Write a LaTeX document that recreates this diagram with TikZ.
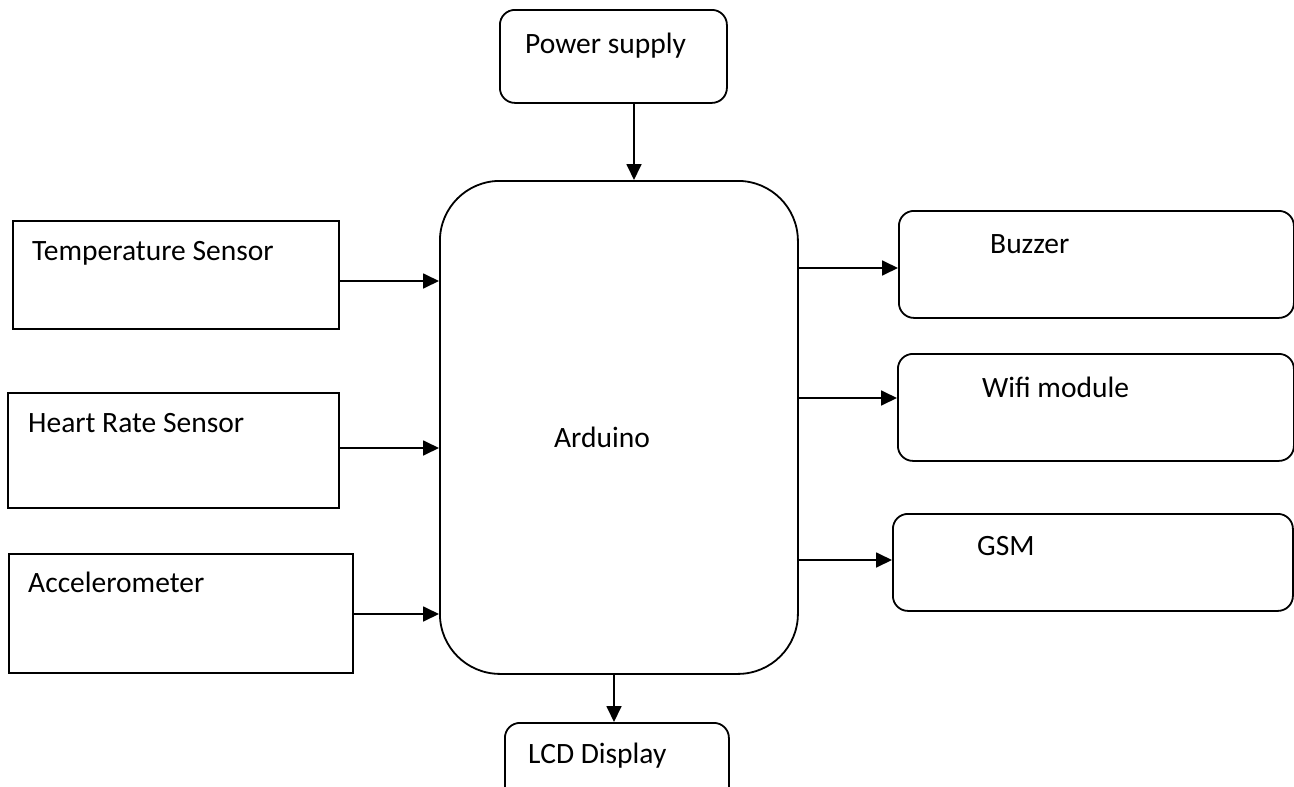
\documentclass[tikz,border=0pt]{standalone}
\usepackage{fontspec}
\setmainfont{Carlito}
\usetikzlibrary{arrows.meta}
\begin{document}
\begin{tikzpicture}[x=1pt,y=-1pt,
  box/.style={draw,line width=1.8pt,inner sep=0pt,anchor=north west},
  rbox/.style={box,rounded corners=15pt},
  lbl/.style={anchor=base west,inner sep=0pt,font=\fontsize{29.5}{33}\selectfont},
  conn/.style={line width=1.8pt,-{Triangle[length=16pt,width=15pt]}}]
\useasboundingbox (0,0) rectangle (1294,787);
% boxes
\node[rbox,minimum width=227pt,minimum height=93pt] (ps) at (499,9) {};
\node[box,rounded corners=60pt,minimum width=358pt,minimum height=493pt] (ard) at (439,180) {};
\node[box,minimum width=326pt,minimum height=108pt] (temp) at (12,220) {};
\node[box,minimum width=331pt,minimum height=115pt] (heart) at (7,392) {};
\node[box,minimum width=344pt,minimum height=119pt] (acc) at (8,553) {};
\node[rbox,minimum width=395pt,minimum height=107pt] (buz) at (898,210) {};
\node[rbox,minimum width=396pt,minimum height=107pt] (wifi) at (897,353) {};
\node[rbox,minimum width=400pt,minimum height=97pt] (gsm) at (892,513) {};
\node[rbox,minimum width=224pt,minimum height=80pt] (lcd) at (504,722) {};
% labels
\node[lbl] (tps) at (525,53) {Power supply};
\node[lbl,anchor=center] (tard) at (602,437) {Arduino};
\node[lbl] (ttemp) at (32,260) {Temperature Sensor};
\node[lbl] (theart) at (28,432) {Heart Rate Sensor};
\node[lbl] (tacc) at (28,592) {Accelerometer};
\node[lbl] (tbuz) at (990,253) {Buzzer};
\node[lbl] (twifi) at (982,397) {Wifi module};
\node[lbl] (tgsm) at (977,555) {GSM};
\node[lbl] (tlcd) at (528,763) {LCD Display};
% connectors
\draw[conn] (ps.south -| 634,0) -- (ard.north -| 634,0);
\draw[conn] (temp.east |- 0,281) -- (ard.west |- 0,281);
\draw[conn] (heart.east |- 0,448) -- (ard.west |- 0,448);
\draw[conn] (acc.east |- 0,614) -- (ard.west |- 0,614);
\draw[conn] (ard.east |- 0,268) -- (buz.west |- 0,268);
\draw[conn] (ard.east |- 0,398) -- (wifi.west |- 0,398);
\draw[conn] (ard.east |- 0,560) -- (gsm.west |- 0,560);
\draw[conn] (ard.south -| 614,0) -- (lcd.north -| 614,0);
\end{tikzpicture}
\end{document}
